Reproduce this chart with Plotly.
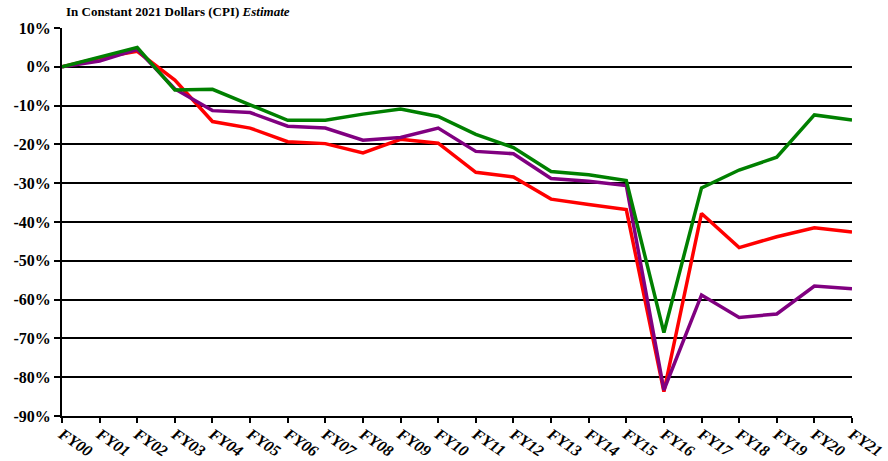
import plotly.graph_objects as go

# Fiscal years on the category axis
years = ["FY00", "FY01", "FY02", "FY03", "FY04", "FY05", "FY06", "FY07",
         "FY08", "FY09", "FY10", "FY11", "FY12", "FY13", "FY14", "FY15",
         "FY16", "FY17", "FY18", "FY19", "FY20", "FY21"]

# Percent change from FY00, constant 2021 dollars
series_red = [0, 2.3, 4.0, -3.4, -14.1, -15.8, -19.3, -19.8, -22.2, -18.7,
              -19.7, -27.2, -28.4, -34.1, -35.5, -36.8, -83.7, -37.8,
              -46.6, -43.8, -41.5, -42.6]
series_purple = [0, 1.5, 4.5, -5.7, -11.3, -11.8, -15.3, -15.8, -18.9, -18.2,
                 -15.8, -21.8, -22.4, -28.8, -29.5, -30.6, -83.3, -58.8,
                 -64.6, -63.7, -56.5, -57.2]
series_green = [0, 2.5, 5.0, -6.0, -5.8, -9.8, -13.8, -13.8, -12.2, -10.9,
                -12.8, -17.4, -20.8, -27.0, -27.8, -29.3, -68.5, -31.2,
                -26.6, -23.3, -12.4, -13.7]

y_ticks = list(range(10, -100, -10))
y_labels = [f"{v}%" for v in y_ticks]

fig = go.Figure()
for name, vals, color in [("Red", series_red, "#FF0000"),
                          ("Purple", series_purple, "#800080"),
                          ("Green", series_green, "#008000")]:
    fig.add_trace(go.Scatter(x=years, y=vals, mode="lines", name=name,
                             line=dict(color=color, width=3.5),
                             showlegend=False, cliponaxis=False))

fig.update_layout(
    width=888, height=461,
    margin=dict(l=62, r=36, t=28, b=45),
    paper_bgcolor="white", plot_bgcolor="white",
    font=dict(family="Liberation Serif", color="black"),
)

fig.update_xaxes(
    type="category", range=[0, 21], automargin=False,
    showgrid=False, zeroline=False,
    showline=True, linecolor="black", linewidth=2,
    ticks="outside", ticklen=5, tickwidth=2, tickcolor="black",
    tickangle=34, ticklabelstandoff=-4,
    tickfont=dict(family="Liberation Serif", size=16, color="black",
                  weight="bold", style="italic"),
)

fig.update_yaxes(
    range=[-90, 10], tickvals=y_ticks, ticktext=y_labels, automargin=False,
    showgrid=True, gridcolor="black", gridwidth=2,
    zeroline=True, zerolinecolor="black", zerolinewidth=2,
    showline=True, linecolor="black", linewidth=2,
    ticks="outside", ticklen=6, tickwidth=2, tickcolor="black",
    tickfont=dict(family="Liberation Serif", size=16, color="black",
                  weight="bold"),
)

fig.add_annotation(
    xref="paper", yref="paper", x=0, y=1, xanchor="left", yanchor="bottom",
    xshift=2, yshift=7, showarrow=False,
    text="In Constant 2021 Dollars (CPI) <i>Estimate</i>",
    font=dict(family="Liberation Serif", size=13, color="black", weight="bold"),
)

fig.write_html("out.html")
